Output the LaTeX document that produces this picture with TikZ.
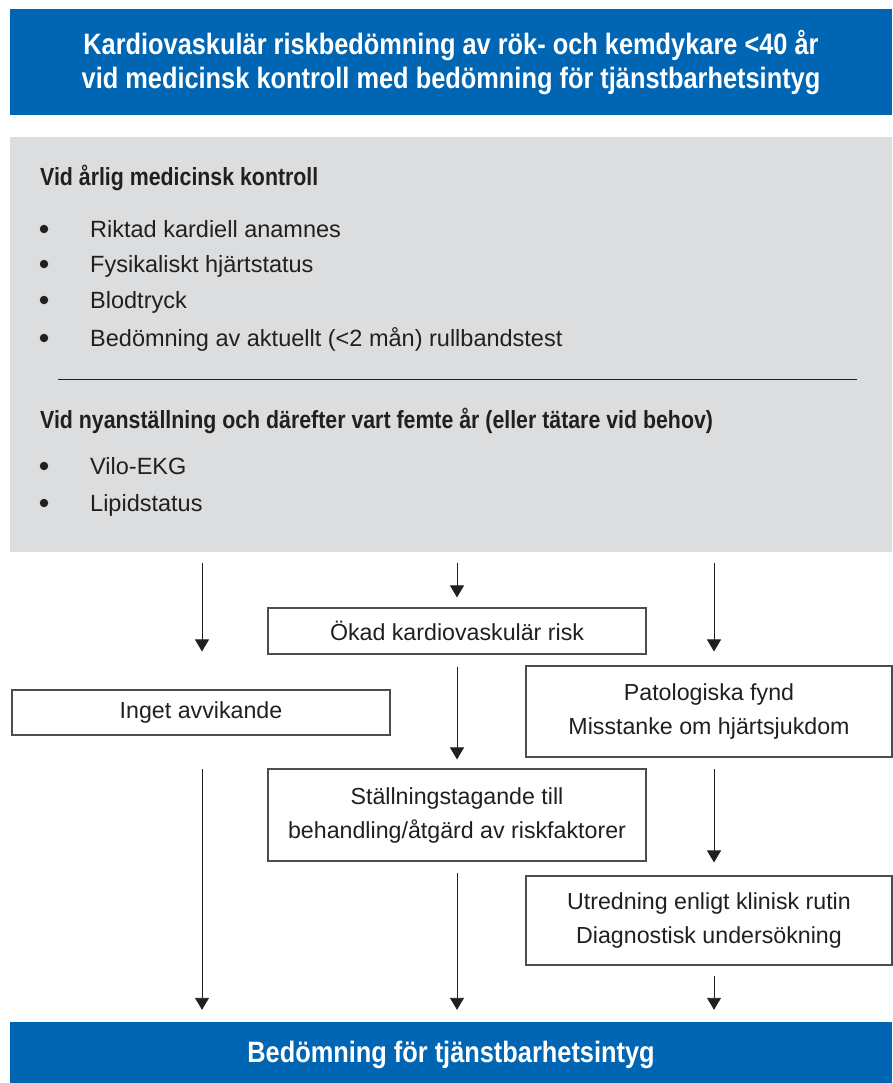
\documentclass[tikz,border=0pt]{standalone}
\usepackage{fontspec}
\setmainfont{Liberation Sans}
\newfontfamily\condfont[FakeStretch=0.86]{Liberation Sans}
\usetikzlibrary{arrows.meta}
\definecolor{bannerblue}{HTML}{0066B3}
\definecolor{panelgray}{HTML}{DCDDDE}
\definecolor{inkgray}{HTML}{231F20}

\begin{document}
\begin{tikzpicture}[x=1pt, y=-1pt,
  banner/.style = {fill=bannerblue, text=white, align=center, inner sep=0pt,
    font=\condfont\bfseries\fontsize{29.5}{34}\selectfont},
  box/.style = {draw=inkgray!80, line width=1.1pt, fill=white, align=center, inner sep=0pt,
    text=inkgray, font=\fontsize{23.2}{34}\selectfont},
  lead/.style = {anchor=base west, inner sep=0pt, text=inkgray,
    font=\condfont\bfseries\fontsize{24.8}{28}\selectfont},
  item/.style = {anchor=base west, inner sep=0pt, text=inkgray,
    font=\fontsize{23.5}{28}\selectfont},
  dot/.style = {circle, fill=inkgray, inner sep=0pt, minimum size=8.5pt},
  flow/.style = {draw=inkgray, line width=0.9pt, -{Triangle[width=14pt,length=12pt]}}]
	\useasboundingbox (0,0) rectangle (892,1083);
	% banners and panel
	\node[banner, minimum width=882, minimum height=106] (head) at (451,62)
	  {Kardiovaskulär riskbedömning av rök- och kemdykare <40 år\\vid medicinsk kontroll med bedömning för tjänstbarhetsintyg};
	\node[fill=panelgray, minimum width=882, minimum height=415, inner sep=0pt] (panel) at (451,344.5) {};
	\node[banner, minimum width=882, minimum height=61, text depth=1pt] (bedom) at (451,1052.5) {Bedömning för tjänstbarhetsintyg};
	% panel text
	\node[lead] (lead1) at (40,186) {Vid årlig medicinsk kontroll};
	\node[dot] (b1) at (44,229) {};
	\node[item] (i1) at (90,237) {Riktad kardiell anamnes};
	\node[dot] (b2) at (44,264) {};
	\node[item] (i2) at (90,272) {Fysikaliskt hjärtstatus};
	\node[dot] (b3) at (44,300) {};
	\node[item] (i3) at (90,308) {Blodtryck};
	\node[dot] (b4) at (44,338) {};
	\node[item] (i4) at (90,346) {Bedömning av aktuellt (<2 mån) rullbandstest};
	\draw[inkgray, line width=0.8pt] (58,379) -- (857,379);
	\node[lead] (lead2) at (40,428) {Vid nyanställning och därefter vart femte år (eller tätare vid behov)};
	\node[dot] (b5) at (44,466) {};
	\node[item] (i5) at (90,474) {Vilo-EKG};
	\node[dot] (b6) at (44,503) {};
	\node[item] (i6) at (90,511) {Lipidstatus};
	% boxes
	\node[box, minimum width=378, minimum height=46] (okad) at (457,631) {Ökad kardiovaskulär risk};
	\node[box, minimum width=378, minimum height=45] (inget) at (201,712.5) {Inget avvikande};
	\node[box, minimum width=366, minimum height=91] (patol) at (709,711.5) {Patologiska fynd\\Misstanke om hjärtsjukdom};
	\node[box, minimum width=378, minimum height=92] (stall) at (457,815) {Ställningstagande till\\behandling/åtgärd av riskfaktorer};
	\node[box, minimum width=366, minimum height=89] (utred) at (709,920.5) {Utredning enligt klinisk rutin\\Diagnostisk undersökning};
	\coordinate (lcol) at (202,0);
	\coordinate (rcol) at (714,0);
	% arrows
	\draw[flow, shorten <=11pt, shorten >=38pt] (panel.south -| lcol) -- (inget.north -| lcol);
	\draw[flow, shorten <=11pt, shorten >=10pt] (panel.south -| okad.north) -- (okad.north);
	\draw[flow, shorten <=11pt, shorten >=14pt] (panel.south -| rcol) -- (patol.north -| rcol);
	\draw[flow, shorten <=12pt, shorten >=9pt] (okad) -- (stall);
	\draw[flow, shorten <=33pt, shorten >=12pt] (inget.south -| lcol) -- (bedom.north -| lcol);
	\draw[flow, shorten <=11pt, shorten >=13pt] (patol.south -| rcol) -- (utred.north -| rcol);
	\draw[flow, shorten <=11pt, shorten >=12pt] (stall) -- (bedom.north -| stall.south);
	\draw[flow, shorten <=10pt, shorten >=12pt] (utred.south -| rcol) -- (bedom.north -| rcol);
\end{tikzpicture}
\end{document}
